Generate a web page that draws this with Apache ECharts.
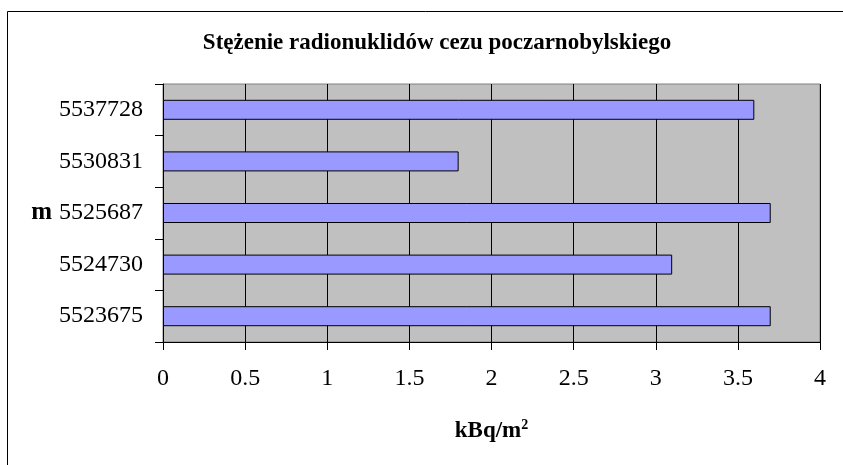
<!DOCTYPE html>
<html>
<head>
<meta charset="utf-8">
<script src="https://cdn.jsdelivr.net/npm/echarts@6/dist/echarts.min.js"></script>
<style>
  html, body { margin: 0; padding: 0; background: #fff; }
  #chart { width: 843px; height: 465px; }
</style>
</head>
<body>
<div id="chart"></div>
<script>
// kategorie (od dołu do góry) i wartości w kBq/m2
var categories = ['5523675', '5524730', '5525687', '5530831', '5537728'];
var values = [3.7, 3.1, 3.7, 1.8, 3.6];
var xTicks = [0, 0.5, 1, 1.5, 2, 2.5, 3, 3.5, 4];

var serif = '"Liberation Serif", "DejaVu Serif", serif';

var myChart = echarts.init(document.getElementById('chart'));
var option = {
    animation: false,
    backgroundColor: '#ffffff',
    title: {
        text: 'Stężenie radionuklidów cezu poczarnobylskiego',
        left: 432,
        top: 27,
        textAlign: 'center',
        textStyle: { fontFamily: serif, fontWeight: 'bold', fontSize: 23, color: '#000' }
    },
    graphic: [
        {
            type: 'rect',
            shape: { x: 7.5, y: 11.5, width: 850, height: 470 },
            style: { fill: 'none', stroke: '#000', lineWidth: 1 },
            silent: true,
            z: -1
        }
    ],
    grid: {
        left: 163,
        right: 23,
        top: 84,
        bottom: 123,
        show: true,
        backgroundColor: '#c0c0c0',
        borderColor: '#808080',
        borderWidth: 1
    },
    xAxis: {
        type: 'value',
        min: 0,
        max: 4,
        interval: 0.5,
        name: '{a|kBq/m}{s|2}',
        nameLocation: 'middle',
        nameGap: 76,
        nameTextStyle: {
            rich: {
                a: { fontFamily: serif, fontWeight: 'bold', fontSize: 23, color: '#000' },
                s: { fontFamily: serif, fontWeight: 'bold', fontSize: 14, color: '#000', verticalAlign: 'top', padding: [0, 0, 12, 0] }
            }
        },
        axisLine: { show: true, lineStyle: { color: '#000', width: 1 } },
        axisTick: { show: true, inside: false, length: 8, lineStyle: { color: '#000' } },
        axisLabel: {
            margin: 25,
            fontFamily: serif, fontSize: 24, color: '#000',
            formatter: function (v) { return xTicks.indexOf(v) >= 0 ? String(v) : ''; }
        },
        splitLine: { show: true, lineStyle: { color: '#000', width: 1 } }
    },
    yAxis: {
        type: 'category',
        data: categories,
        name: 'm',
        nameLocation: 'middle',
        nameRotate: 0,
        nameGap: 111,
        nameTextStyle: { fontFamily: serif, fontWeight: 'bold', fontSize: 25, color: '#000', align: 'right' },
        axisLine: { show: true, lineStyle: { color: '#000', width: 1 } },
        axisTick: { show: true, inside: false, length: 8, lineStyle: { color: '#000' } },
        axisLabel: { margin: 20, fontFamily: serif, fontSize: 24, color: '#000' },
        splitLine: { show: false }
    },
    series: [
        {
            type: 'bar',
            data: values,
            barWidth: 20,
            itemStyle: { color: '#9999ff', borderColor: '#000', borderWidth: 1 }
        }
    ]
};
myChart.setOption(option);
</script>
</body>
</html>
